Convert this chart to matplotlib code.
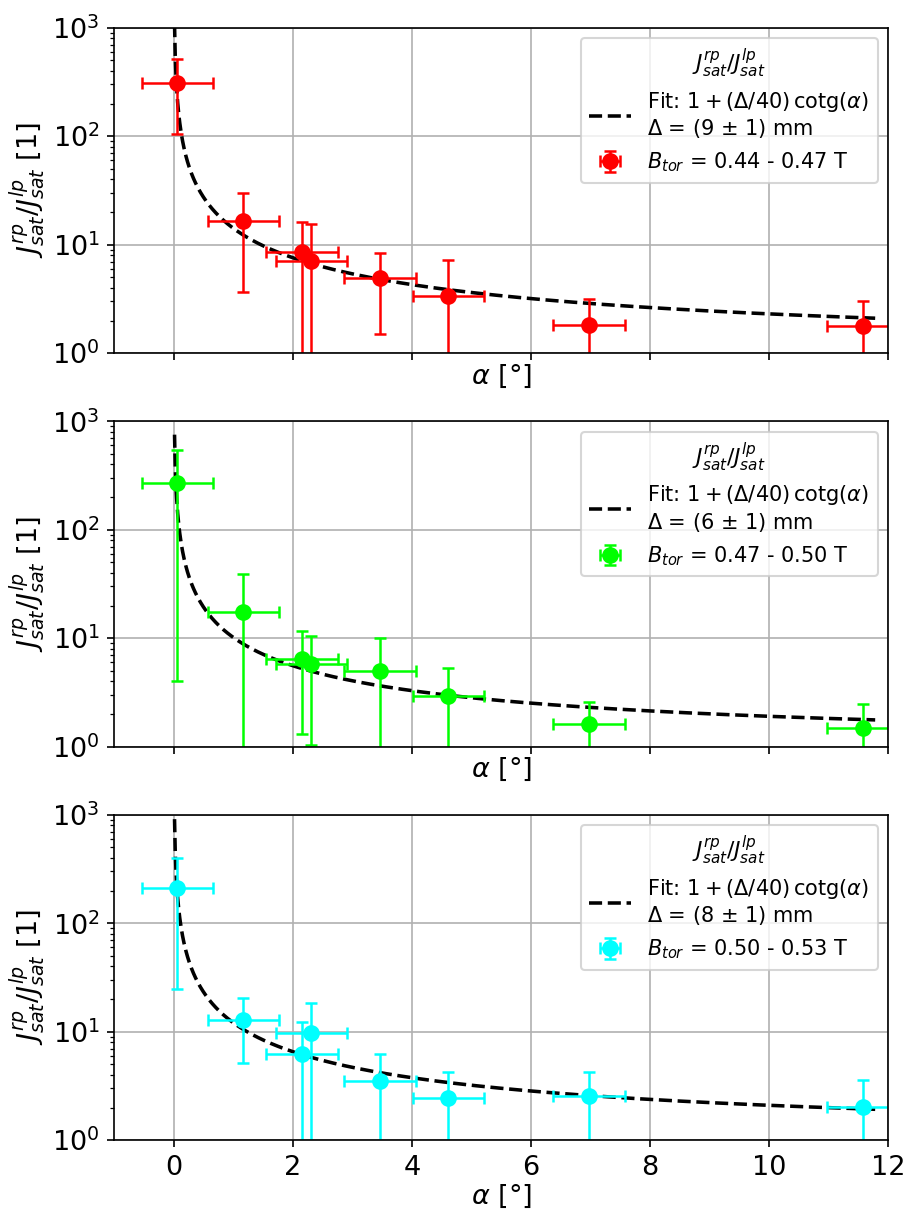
import numpy as np
import matplotlib
matplotlib.use("Agg")
import matplotlib.pyplot as plt

# Data
alpha = [0.06, 1.17, 2.15, 2.31, 3.46, 4.61, 6.97, 11.57]
alpha_err = [0.6, 0.6, 0.6, 0.6, 0.6, 0.6, 0.6, 0.6]

ratio_1 = [310, 16.7, 8.5, 7.1, 4.92, 3.4, 1.82, 1.78]
ratio_1_err = [205, 13.0, 7.6, 8.4, 3.4, 3.8, 1.36, 1.25]

ratio_2 = [271, 17.5, 6.5, 5.73, 5.0, 2.95, 1.61, 1.50]
ratio_2_err = [267, 22.0, 5.2, 4.7, 5.0, 2.4, 1.0, 1.0]

ratio_3 = [211, 12.8, 6.3, 9.66, 3.51, 2.44, 2.57, 2.01]
ratio_3_err = [186, 7.7, 6.0, 8.7, 2.7, 1.8, 1.7, 1.6]

fit_delta = [9.2, 6.4, 7.75]
delta_text = ["9", "6", "8"]
btor_labels = ["0.44 - 0.47", "0.47 - 0.50", "0.50 - 0.53"]
colors = ["red", "lime", "cyan"]

fit_start, fit_end = 0.0122, 11.78

fig, axes = plt.subplots(3, 1, figsize=(904 / 150, 1212 / 150), dpi=150, sharex=True)
fig.subplots_adjust(left=0.1264, right=0.9826, top=0.9771, bottom=0.0592, hspace=0.209)

ratios = [ratio_1, ratio_2, ratio_3]
ratio_errs = [ratio_1_err, ratio_2_err, ratio_3_err]

x_fit = np.linspace(fit_start, fit_end, 2000)

for ax, r, re, d, dt, bl, c in zip(axes, ratios, ratio_errs, fit_delta, delta_text, btor_labels, colors):
    ax.set_yscale("log")
    y_fit = 1 + (d / 40) / np.tan(np.deg2rad(x_fit))
    ax.plot(x_fit, y_fit, "k--", lw=1.7,
            label="Fit: $1 + (\\Delta/40)\\,\\mathrm{cotg}(\\alpha)$\n$\\Delta$ = (" + dt + " $\\pm$ 1) mm")
    ax.errorbar(alpha, r, xerr=alpha_err, yerr=re, fmt="o", color=c, ecolor=c,
                elinewidth=1.2, capsize=3, capthick=1.2, markersize=7,
                label="$B_{tor}$ = " + bl + " T")
    ax.set_ylim(1, 1000)
    ax.set_xlim(-1, 12)
    ax.grid(True, which="major", color="#b0b0b0", lw=0.8)
    ax.set_axisbelow(True)
    ax.set_ylabel("$J^{rp}_{sat}/J^{lp}_{sat}$ [1]", fontsize=13, labelpad=2)
    ax.set_xlabel("$\\alpha$ [°]", fontsize=13, labelpad=1)
    ax.tick_params(labelsize=13)
    ax.xaxis.set_tick_params(labelbottom=(ax is axes[-1]))
    ax.legend(loc="upper right", title="$J^{rp}_{sat}/J^{lp}_{sat}$", fontsize=10, title_fontsize=10.5)

axes[-1].set_xticks([0, 2, 4, 6, 8, 10, 12])

fig.savefig("out.png", dpi=150)
